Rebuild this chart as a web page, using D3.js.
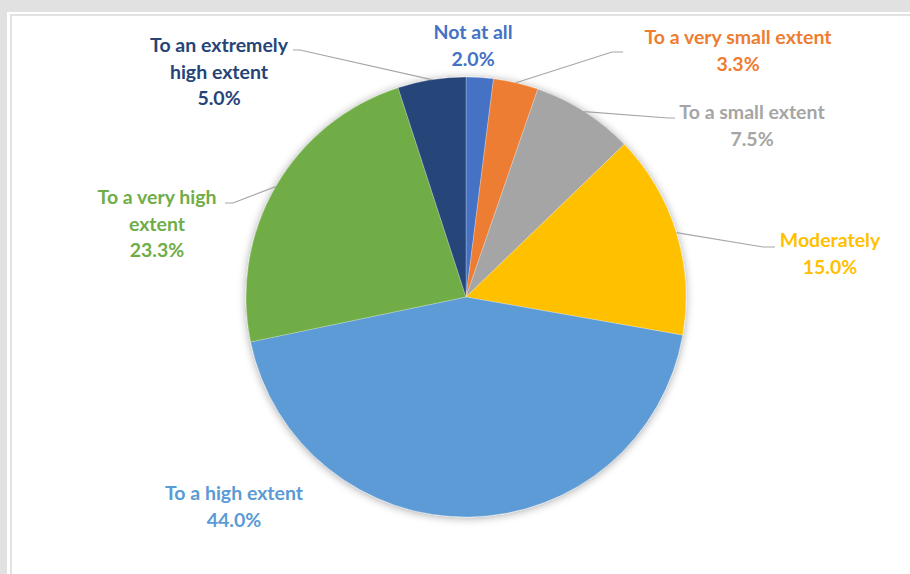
<!DOCTYPE html>
<html>
<head>
<meta charset="utf-8">
<script src="https://d3js.org/d3.v7.min.js"></script>
<style>
  html, body { margin: 0; padding: 0; background: #e1e1e1; }
  svg { display: block; }
</style>
</head>
<body>
<div id="chart"></div>
<script>
    'use strict';

    // data
    var categories = ["Not at all", "To a very small extent", "To a small extent", "Moderately",
                      "To a high extent", "To a very high extent", "To an extremely high extent"];
    var percents = [2.0, 3.3, 7.5, 15.0, 44.0, 23.3, 5.0];
    var colors = ["#4472C4", "#ED7D31", "#A5A5A5", "#FFC000", "#5B9BD5", "#70AD47", "#264478"];
    // label text broken in lines like the original
    var labelLines = [
        ["Not at all"],
        ["To a very small extent"],
        ["To a small extent"],
        ["Moderately"],
        ["To a high extent"],
        ["To a very high", "extent"],
        ["To an extremely", "high extent"]
    ];

    // layout of labels (center x, first line baseline y) and leader line elbows
    var labelPos = [[473, 39], [738, 44], [752, 119], [830, 247], [234, 500], [157, 204], [219, 52]];
    var leaders = [null, [[612, 52], [623, 52]], [[668, 118], [675, 118]], [[763, 247], [775, 247]],
                   null, [[233, 203], [225, 203]], [[300, 50], [293, 50]]];

    var width = 910, height = 574;
    var cx = 466, cy = 297, radius = 220;
    var lineH = 26.5;

    var svg = d3.select("#chart").append("svg")
        .attr("width", width)
        .attr("height", height);

    // frame
    svg.append("rect").attr("x", 7).attr("y", 12).attr("width", width - 7).attr("height", height - 12)
        .attr("fill", "#ffffff");
    svg.append("rect").attr("x", 11).attr("y", 15).attr("width", width).attr("height", height)
        .attr("fill", "none").attr("stroke", "#e2e2e2").attr("stroke-width", 2);

    var defs = svg.append("defs");
    var f = defs.append("filter").attr("id", "shadow")
        .attr("x", "-10%").attr("y", "-10%").attr("width", "120%").attr("height", "120%");
    f.append("feDropShadow").attr("dx", 0).attr("dy", 1).attr("stdDeviation", 4)
        .attr("flood-color", "#000").attr("flood-opacity", 0.35);

    var g = svg.append("g").attr("transform", "translate(" + cx + "," + cy + ")");

    var pie = d3.pie().sort(null).value(function(d) { return d; });
    var arcs = pie(percents);

    var path = d3.arc().outerRadius(radius).innerRadius(0);
    var edge = d3.arc().outerRadius(radius).innerRadius(radius);

    g.append("g").attr("filter", "url(#shadow)")
        .selectAll("path")
        .data(arcs)
        .enter().append("path")
        .attr("d", path)
        .attr("fill", function(d, i) { return colors[i]; })
        .attr("stroke", "#ffffff")
        .attr("stroke-opacity", 0.5)
        .attr("stroke-width", 0.5);

    // leader lines
    arcs.forEach(function(d, i) {
        if (!leaders[i]) return;
        var c = edge.centroid(d);
        var pts = [[cx + c[0], cy + c[1]]].concat(leaders[i]);
        svg.append("path")
            .attr("d", d3.line()(pts))
            .attr("fill", "none")
            .attr("stroke", "#a6a6a6")
            .attr("stroke-width", 1.2);
    });

    // labels
    arcs.forEach(function(d, i) {
        var t = svg.append("text")
            .attr("x", labelPos[i][0])
            .attr("y", labelPos[i][1])
            .attr("text-anchor", "middle")
            .style("font-family", "Lato, 'Open Sans', sans-serif")
            .style("font-weight", "bold")
            .style("font-size", "19.5px")
            .attr("fill", colors[i]);
        var lines = labelLines[i].concat([percents[i].toFixed(1) + "%"]);
        lines.forEach(function(s, k) {
            t.append("tspan")
                .attr("x", labelPos[i][0])
                .attr("dy", k === 0 ? 0 : lineH)
                .text(s);
        });
    });
</script>
</body>
</html>
